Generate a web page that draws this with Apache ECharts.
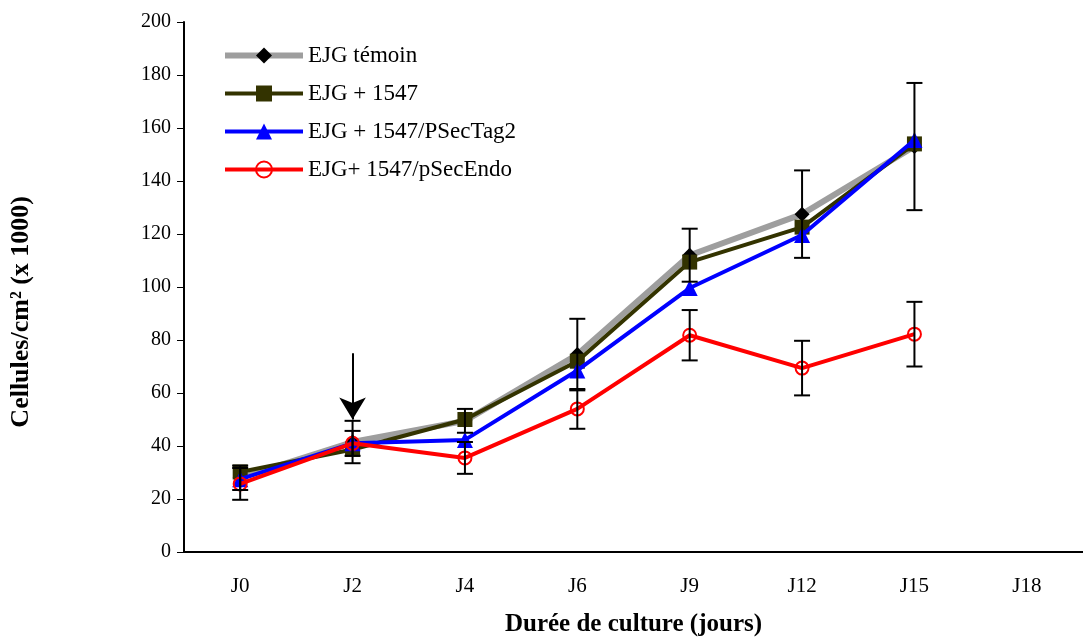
<!DOCTYPE html>
<html>
<head>
<meta charset="utf-8">
<script src="https://cdn.jsdelivr.net/npm/echarts@6/dist/echarts.min.js"></script>
<style>
  html, body { margin: 0; padding: 0; background: #fff; }
  #chart { width: 1083px; height: 639px; }
</style>
</head>
<body>
<div id="chart"></div>
<script>
// jours de culture
const days = ["J0", "J2", "J4", "J6", "J9", "J12", "J15", "J18"];

const temoin = [28, 41.5, 49.5, 74.5, 112, 127.5, 153];
const temoinSd = [4.6, 8, 4.5, 13.5, 10, 16.5, 24];
const ejg1547 = [30.2, 38.7, 50, 72, 109.4, 122.6, 154];
const pSecTag2 = [27.5, 41, 42.3, 68.5, 99.6, 119.6, 155.5];
const pSecEndo = [25.7, 41, 35.5, 54, 81.8, 69.4, 82.2];
const pSecEndoSd = [6, 4.7, 6, 7.5, 9.5, 10.3, 12.2];

// flèche d'ajout au jour J2 (de / vers)
const arrowAt = ["J2", 75, 50];

const font = "'Liberation Serif', 'Times New Roman', serif";

const errData = [];
temoin.forEach((v, i) => errData.push([i, v - temoinSd[i], v + temoinSd[i]]));
pSecEndo.forEach((v, i) => errData.push([i, v - pSecEndoSd[i], v + pSecEndoSd[i]]));

const chart = echarts.init(document.getElementById("chart"));

chart.setOption({
  animation: false,
  backgroundColor: "#fff",
  textStyle: {fontFamily: font},
  grid: {left: 184, right: 0, top: 22, bottom: 87, outerBoundsMode: "none"},
  legend: {
    orient: "vertical",
    left: 217,
    top: 39,
    itemWidth: 78,
    itemHeight: 20,
    itemGap: 15,
    lineStyle: {width: "inherit"},
    textStyle: {fontFamily: font, fontSize: 23, color: "#000"},
    data: ["EJG témoin", "EJG + 1547", "EJG + 1547/PSecTag2", "EJG+ 1547/pSecEndo"]
  },
  xAxis: {
    type: "category",
    data: days,
    boundaryGap: true,
    axisLine: {lineStyle: {color: "#000", width: 2}},
    axisTick: {length: 6, lineStyle: {color: "#000", width: 1}},
    axisLabel: {color: "#000", fontFamily: font, fontSize: 21, margin: 24},
    name: "Durée de culture (jours)",
    nameLocation: "middle",
    nameGap: 60,
    nameTextStyle: {color: "#000", fontFamily: font, fontSize: 25, fontWeight: "bold"}
  },
  yAxis: {
    type: "value",
    min: 0,
    max: 200,
    interval: 20,
    splitLine: {show: false},
    axisLine: {show: true, lineStyle: {color: "#000", width: 2}},
    axisTick: {show: true, length: 7, lineStyle: {color: "#000", width: 1}},
    axisLabel: {color: "#000", fontFamily: font, fontSize: 20, margin: 13}
  },
  graphic: [{
    type: "text",
    left: 8,
    top: 196,
    rotation: Math.PI / 2,
    style: {
      text: "Cellules/cm² (x 1000)",
      fontFamily: font,
      fontSize: 26,
      fontWeight: "bold",
      fill: "#000"
    }
  }],
  series: [
    {
      name: "EJG témoin",
      type: "line",
      data: temoin,
      symbol: "diamond",
      symbolSize: 15,
      itemStyle: {color: "#000"},
      lineStyle: {color: "#9e9e9e", width: 6},
      z: 2,
      markLine: {
        silent: true,
        symbol: ["none", "arrow"],
        symbolSize: [20, 22],
        label: {show: false},
        lineStyle: {color: "#000", width: 2, type: "solid"},
        data: [[{coord: [arrowAt[0], arrowAt[1]]}, {coord: [arrowAt[0], arrowAt[2]]}]]
      }
    },
    {
      name: "EJG + 1547",
      type: "line",
      data: ejg1547,
      symbol: "rect",
      symbolSize: 15,
      itemStyle: {color: "#333300"},
      lineStyle: {color: "#333300", width: 4},
      z: 3
    },
    {
      name: "EJG + 1547/PSecTag2",
      type: "line",
      data: pSecTag2,
      symbol: "triangle",
      symbolSize: 16,
      itemStyle: {color: "#0000ff"},
      lineStyle: {color: "#0000ff", width: 4},
      z: 4
    },
    {
      name: "EJG+ 1547/pSecEndo",
      type: "line",
      data: pSecEndo,
      symbol: "circle",
      symbolSize: 13,
      itemStyle: {color: "rgba(255,255,255,0)", borderColor: "#ff0000", borderWidth: 2},
      lineStyle: {color: "#ff0000", width: 4},
      z: 5
    },
    {
      name: "erreurs",
      type: "custom",
      data: errData,
      z: 6,
      silent: true,
      renderItem: (params, api) => {
        const lo = api.coord([api.value(0), api.value(1)]);
        const hi = api.coord([api.value(0), api.value(2)]);
        const w = 8;
        const style = {stroke: "#000", lineWidth: 2};
        return {
          type: "group",
          children: [
            {type: "line", shape: {x1: lo[0], y1: lo[1], x2: hi[0], y2: hi[1]}, style},
            {type: "line", shape: {x1: lo[0] - w, y1: lo[1], x2: lo[0] + w, y2: lo[1]}, style},
            {type: "line", shape: {x1: hi[0] - w, y1: hi[1], x2: hi[0] + w, y2: hi[1]}, style}
          ]
        };
      }
    }
  ]
});
</script>
</body>
</html>
